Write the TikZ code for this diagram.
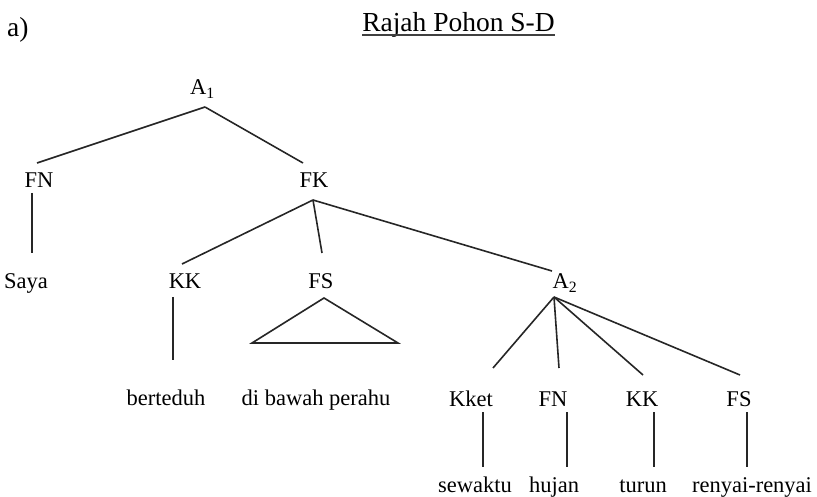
\documentclass[tikz,border=0pt]{standalone}
\usepackage{fontspec}
\setmainfont{Liberation Serif}
\begin{document}
\begin{tikzpicture}[x=1pt,y=1pt,
  lab/.style={inner sep=0pt,anchor=base,font=\fontsize{22.5}{25}\selectfont},
  big/.style={inner sep=0pt,anchor=base,font=\fontsize{27.5}{30}\selectfont},
  edge/.style={line width=1.6pt,draw=black!85}]
\useasboundingbox (0,0) rectangle (817,-497);
% title and label
\node[big,anchor=base west] (tag) at (7,-37) {a)};
\node[big] (title) at (458.5,-32) {Rajah Pohon S-D};
\draw[line width=1.6pt,draw=black!75] ([yshift=-3]title.base west) -- ([yshift=-3]title.base east);
% nodes
\node[lab] (A1) at (202.5,-95) {A\textsubscript{1}};
\node[lab] (FN) at (39,-188) {FN};
\node[lab] (FK) at (314,-188) {FK};
\node[lab] (Saya) at (26,-289) {Saya};
\node[lab] (KK) at (185,-289) {KK};
\node[lab] (FS) at (321,-289) {FS};
\node[lab] (A2) at (565,-289) {A\textsubscript{2}};
\node[lab] (bert) at (166,-405) {berteduh};
\node[lab] (dib) at (316,-405) {di bawah perahu};
\node[lab] (Kket) at (471,-406) {Kket};
\node[lab] (FNb) at (553,-406) {FN};
\node[lab] (KKb) at (642,-406) {KK};
\node[lab] (FSb) at (739,-406) {FS};
\node[lab] (sew) at (475,-492) {sewaktu};
\node[lab] (huj) at (554,-492) {hujan};
\node[lab] (tur) at (643,-492) {turun};
\node[lab] (ren) at (752,-492) {renyai-renyai};
% connectors
\draw[edge] ([shift={(2.5,-12)}]A1.base) -- ([shift={(-2,25)}]FN.base);
\draw[edge] ([shift={(2.5,-12)}]A1.base) -- ([shift={(-11,25)}]FK.base);
\draw[edge] ([shift={(-7,-5)}]FN.base) -- ([shift={(6,36)}]Saya.base);
\draw[edge] ([shift={(-1,-12)}]FK.base) -- ([shift={(-3,25)}]KK.base);
\draw[edge] ([shift={(-1,-12)}]FK.base) -- ([shift={(1,36)}]FS.base);
\draw[edge] ([shift={(-1,-12)}]FK.base) -- ([shift={(-13,18)}]A2.base);
\draw[edge] ([shift={(-12,-8)}]KK.base) -- ([shift={(7,45)}]bert.base);
\draw[edge,line join=miter] ([shift={(3,-9)}]FS.base) -- ([shift={(-64,62)}]dib.base) -- ([shift={(82,62)}]dib.base) -- cycle;
\draw[edge] ([shift={(-11,-8)}]A2.base) -- ([shift={(22,38)}]Kket.base);
\draw[edge] ([shift={(-11,-8)}]A2.base) -- ([shift={(6,38)}]FNb.base);
\draw[edge] ([shift={(-11,-8)}]A2.base) -- ([shift={(1,31)}]KKb.base);
\draw[edge] ([shift={(-11,-8)}]A2.base) -- ([shift={(1,31)}]FSb.base);
\draw[edge] ([shift={(12,-6)}]Kket.base) -- ([shift={(8,25)}]sew.base);
\draw[edge] ([shift={(14,-6)}]FNb.base) -- ([shift={(13,25)}]huj.base);
\draw[edge] ([shift={(12,-6)}]KKb.base) -- ([shift={(11,25)}]tur.base);
\draw[edge] ([shift={(8,-6)}]FSb.base) -- ([shift={(-5,25)}]ren.base);
\end{tikzpicture}
\end{document}
